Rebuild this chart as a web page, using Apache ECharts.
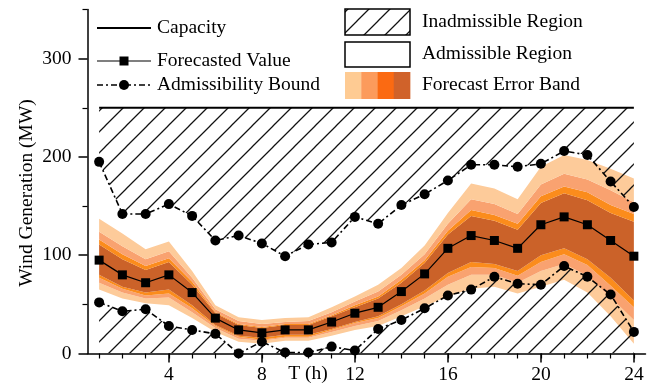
<!DOCTYPE html>
<html>
<head>
<meta charset="utf-8">
<script src="https://cdn.jsdelivr.net/npm/echarts@6/dist/echarts.min.js"></script>
<style>
  html, body { margin: 0; padding: 0; background: #fff; }
  #chart { width: 656px; height: 386px; }
</style>
</head>
<body>
<div id="chart"></div>
<script>
// Hourly wind generation: forecast, admissibility bounds and error band (MW)
const hours = ['1', '2', '3', '4', '5', '6', '7', '8', '9', '10', '11', '12', '13', '14', '15', '16', '17', '18', '19', '20', '21', '22', '23', '24'];
const capacity = 250;
const forecast = [95, 80, 72, 80, 62, 36, 24, 21, 24, 24, 32, 41, 47, 63, 81, 107, 120, 115, 107, 131, 139, 131, 115, 99];
const upperBound = [195, 142, 142, 152, 140, 115, 120, 112, 99, 111, 113, 139, 132, 151, 162, 176, 192, 192, 190, 193, 206, 202, 175, 149];
const lowerBound = [52, 43, 45, 28, 24, 20, 0, 12, 1, 1, 7, 3, 25, 34, 46, 59, 65, 78, 71, 70, 89, 78, 60, 22];

// Error band edges, outermost to innermost
const bandLightHi  = [137, 122, 106, 114, 84, 49, 37, 34, 36, 37, 47, 58, 70, 87, 110, 143, 173, 168, 157, 190, 202, 197, 188, 178];
const bandSalmonHi = [124, 109, 96, 104, 77, 45, 33, 30, 32, 33, 42, 53, 63, 80, 101, 132, 157, 152, 142, 172, 183, 177, 166, 154];
const bandOrangeHi = [116, 101, 89, 97, 73, 42, 30, 27, 30, 30, 39, 49, 58, 75, 95, 125, 146, 141, 132, 160, 170, 164, 151, 142];
const bandCoreHi   = [111, 96, 85, 93, 70, 41, 29, 26, 29, 29, 38, 47, 56, 72, 92, 121, 140, 135, 126, 153, 163, 156, 143, 134];
const bandCoreLo   = [80, 68, 62, 65, 49, 29, 18, 16, 19, 19, 25, 32, 38, 50, 64, 82, 93, 91, 84, 100, 107, 96, 77, 54];
const bandOrangeLo = [77, 66, 59, 61, 46, 28, 17, 14, 17, 17, 24, 31, 36, 48, 61, 78, 88, 87, 79, 93, 101, 90, 69, 47];
const bandSalmonLo = [72, 62, 56, 57, 42, 26, 15, 13, 16, 16, 22, 28, 33, 44, 56, 70, 80, 80, 72, 84, 91, 79, 57, 34];
const bandLightLo  = [65, 56, 51, 49, 36, 22, 12, 10, 13, 13, 18, 24, 28, 38, 48, 58, 66, 68, 61, 68, 75, 62, 38, 10];

const xLabelHours = ['4', '8', '12', '16', '20', '24'];
const yLabelTicks = [0, 100, 200, 300];
const yMinorTicks = [50, 150, 250, 350];

const FONT = '"Liberation Serif", "DejaVu Serif", serif';
const FONT_SIZE = 19.5;
const bandColors = { light: '#FDCB9A', salmon: '#F9A270', orange: '#FB8C1C', core: '#CB6229' };
const swatchColors = ['#FECB93', '#FC9B5C', '#FB6A12', '#D0622A'];

// Diagonal hatch tile used for the inadmissible regions
function hatchTile() {
  const s = 21;
  const c = document.createElement('canvas');
  c.width = s; c.height = s;
  const g = c.getContext('2d');
  g.strokeStyle = '#111';
  g.lineWidth = 1.25;
  g.beginPath();
  g.moveTo(-2, s + 2); g.lineTo(s + 2, -2);
  g.moveTo(-2, 2); g.lineTo(2, -2);
  g.moveTo(s - 2, s + 2); g.lineTo(s + 2, s - 2);
  g.stroke();
  return c;
}
const hatchFill = { image: hatchTile(), repeat: 'repeat' };

const diff = (hi, lo) => hi.map((v, i) => v - lo[i]);

const hidden = { showSymbol: false, symbol: 'none', lineStyle: { opacity: 0, width: 0 }, silent: true };

function bandLayer(hi, lo, color) {
  return Object.assign({
    type: 'line', stack: 'band', z: 1, data: diff(hi, lo),
    areaStyle: { color: color, opacity: 1 }
  }, hidden);
}

const series = [
  Object.assign({ type: 'line', stack: 'band', z: 1, data: bandLightLo.slice() }, hidden),
  bandLayer(bandSalmonLo, bandLightLo, bandColors.light),
  bandLayer(bandOrangeLo, bandSalmonLo, bandColors.salmon),
  bandLayer(bandCoreLo, bandOrangeLo, bandColors.orange),
  bandLayer(bandCoreHi, bandCoreLo, bandColors.core),
  bandLayer(bandOrangeHi, bandCoreHi, bandColors.orange),
  bandLayer(bandSalmonHi, bandOrangeHi, bandColors.salmon),
  bandLayer(bandLightHi, bandSalmonHi, bandColors.light),

  // inadmissible region above the upper bound, up to capacity
  Object.assign({ type: 'line', stack: 'top', z: 2, data: upperBound.slice() }, hidden),
  Object.assign({
    type: 'line', stack: 'top', z: 2,
    data: upperBound.map((v) => capacity - v),
    areaStyle: { color: hatchFill, opacity: 1 }
  }, hidden),
  // inadmissible region below the lower bound
  Object.assign({
    type: 'line', z: 2, data: lowerBound.slice(),
    areaStyle: { color: hatchFill, opacity: 1, origin: 'start' }
  }, hidden),

  {
    name: 'Capacity', type: 'line', z: 4, symbol: 'none', silent: true,
    data: hours.map(() => capacity),
    lineStyle: { color: '#000', width: 2 }
  },
  {
    name: 'Forecasted Value', type: 'line', z: 5, symbol: 'rect', symbolSize: 9, silent: true,
    data: forecast,
    itemStyle: { color: '#000' },
    lineStyle: { color: '#000', width: 1.2 }
  },
  {
    name: 'Admissibility Bound', type: 'line', z: 5, symbol: 'circle', symbolSize: 10, silent: true,
    data: upperBound,
    itemStyle: { color: '#000' },
    lineStyle: { color: '#000', width: 1.6, type: [6, 3, 2, 3] }
  },
  {
    name: 'Admissibility Bound', type: 'line', z: 5, symbol: 'circle', symbolSize: 10, silent: true,
    data: lowerBound,
    itemStyle: { color: '#000' },
    lineStyle: { color: '#000', width: 1.6, type: [6, 3, 2, 3] }
  }
];

const labelFont = { color: '#000', fontFamily: FONT, fontSize: FONT_SIZE };
const legendTextStyle = { fill: '#000', font: FONT_SIZE + 'px ' + FONT, textVerticalAlign: 'middle', textAlign: 'left' };
const showEveryFourth = (idx, val) => xLabelHours.indexOf(String(val)) >= 0;

const graphic = [
  // y-axis title
  { type: 'text', x: 27, y: 193, rotation: Math.PI / 2,
    style: { text: 'Wind Generation (MW)', fill: '#000', font: FONT_SIZE + 'px ' + FONT, textAlign: 'center', textVerticalAlign: 'middle' } },
  // x-axis title
  { type: 'text', x: 308, y: 374,
    style: { text: 'T (h)', fill: '#000', font: FONT_SIZE + 'px ' + FONT, textAlign: 'center', textVerticalAlign: 'middle' } },

  // line legend
  { type: 'line', shape: { x1: 97, y1: 28, x2: 151, y2: 28 }, style: { stroke: '#000', lineWidth: 2 } },
  { type: 'text', x: 157, y: 28, style: Object.assign({ text: 'Capacity' }, legendTextStyle) },
  { type: 'line', shape: { x1: 97, y1: 61, x2: 151, y2: 61 }, style: { stroke: '#000', lineWidth: 1.2 } },
  { type: 'rect', shape: { x: 119.5, y: 56.5, width: 9, height: 9 }, style: { fill: '#000' } },
  { type: 'text', x: 157, y: 61, style: Object.assign({ text: 'Forecasted Value' }, legendTextStyle) },
  { type: 'line', shape: { x1: 97, y1: 85, x2: 151, y2: 85 }, style: { stroke: '#000', lineWidth: 1.6, lineDash: [6, 3, 2, 3] } },
  { type: 'circle', shape: { cx: 124, cy: 85, r: 5 }, style: { fill: '#000' } },
  { type: 'text', x: 157, y: 85, style: Object.assign({ text: 'Admissibility Bound' }, legendTextStyle) },

  // region legend
  { type: 'rect', shape: { x: 345, y: 9, width: 65, height: 26 }, style: { fill: hatchFill, stroke: '#000', lineWidth: 1.5 } },
  { type: 'text', x: 422, y: 22, style: Object.assign({ text: 'Inadmissible Region' }, legendTextStyle) },
  { type: 'rect', shape: { x: 345, y: 42, width: 65, height: 25 }, style: { fill: '#fff', stroke: '#000', lineWidth: 1.5 } },
  { type: 'text', x: 422, y: 54, style: Object.assign({ text: 'Admissible Region' }, legendTextStyle) }
].concat(swatchColors.map((c, i) => ({
  type: 'rect', shape: { x: 345 + i * 16.25, y: 72, width: 16.6, height: 27 }, style: { fill: c }
}))).concat([
  { type: 'text', x: 422, y: 85, style: Object.assign({ text: 'Forecast Error Band' }, legendTextStyle) }
]);

const chart = echarts.init(document.getElementById('chart'), null, { renderer: 'canvas' });
chart.setOption({
  animation: false,
  backgroundColor: '#fff',
  grid: { left: 87.5, right: 10.5, top: 9.5, bottom: 32.5, containLabel: false },
  xAxis: [
    {
      type: 'category', data: hours, boundaryGap: true,
      axisLine: { show: true, onZero: false, lineStyle: { color: '#000', width: 1.5 } },
      axisTick: { show: true, inside: false, alignWithLabel: true, interval: showEveryFourth, length: 9, lineStyle: { color: '#000', width: 1.5 } },
      axisLabel: Object.assign({ margin: 11, interval: showEveryFourth }, labelFont),
      splitLine: { show: false }
    },
    {
      type: 'category', data: hours, boundaryGap: true, position: 'bottom',
      axisLine: { show: false, onZero: false },
      axisTick: { show: true, inside: false, alignWithLabel: true, interval: 0, length: 5, lineStyle: { color: '#000', width: 1.2 } },
      axisLabel: { show: false },
      splitLine: { show: false }
    }
  ],
  yAxis: [
    {
      type: 'value', min: 0, max: 350,
      axisLine: { show: true, onZero: false, lineStyle: { color: '#000', width: 1.5 } },
      axisTick: { show: true, inside: false, length: 9, lineStyle: { color: '#000', width: 1.5 }, customValues: yLabelTicks },
      axisLabel: Object.assign({ margin: 16, customValues: yLabelTicks }, labelFont),
      splitLine: { show: false }
    },
    {
      type: 'value', min: 0, max: 350, position: 'left',
      axisLine: { show: false, onZero: false },
      axisTick: { show: true, inside: false, length: 5, lineStyle: { color: '#000', width: 1.2 }, customValues: yMinorTicks },
      axisLabel: { show: false },
      splitLine: { show: false }
    }
  ],
  series: series,
  graphic: graphic
});
</script>
</body>
</html>
